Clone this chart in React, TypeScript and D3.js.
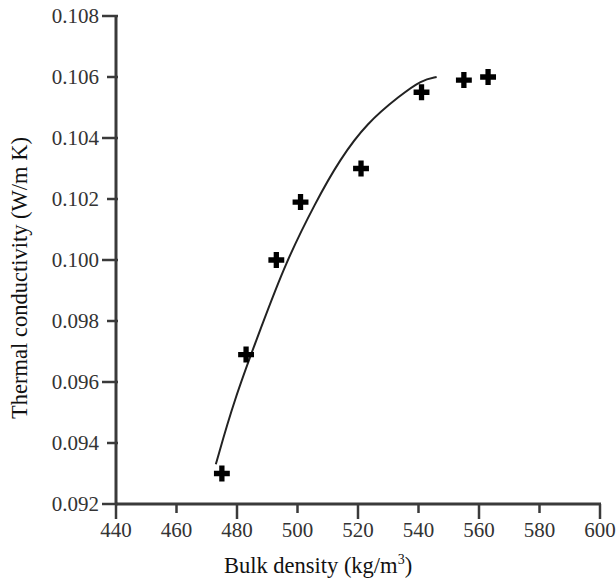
import React, { useRef, useEffect } from "react";
import * as d3 from "d3";

// measured points (crosses)
const density = [475, 483, 493, 501, 521, 541, 555, 563];
const conductivity = [0.093, 0.0969, 0.1, 0.1019, 0.103, 0.1055, 0.1059, 0.106];

// fitted curve
const fitDensity = [473, 479, 488, 496, 506, 514, 523, 534, 541, 546];
const fitConductivity = [0.0933, 0.0954, 0.0978, 0.0999, 0.1019, 0.1033, 0.1045, 0.1054, 0.1059, 0.106];

const xTicks = [440, 460, 480, 500, 520, 540, 560, 580, 600];
const yTicks = [0.092, 0.094, 0.096, 0.098, 0.1, 0.102, 0.104, 0.106, 0.108];

const App = () => {
  const svgRef = useRef<SVGSVGElement>(null);

  useEffect(() => {
    const svg = d3.select(svgRef.current);
    svg.selectAll("*").remove();

    const x = d3.scaleLinear().domain([440, 600]).range([116, 600]);
    const y = d3.scaleLinear().domain([0.092, 0.108]).range([504, 16]);
    const axisColor = "#3a3a3a";
    const font = "Liberation Serif, serif";

    // y axis
    const gy = svg.append("g").attr("transform", `translate(${x(440)},0)`);
    gy.append("line")
      .attr("y1", y(0.108) - 1).attr("y2", y(0.092) + 1)
      .attr("stroke", axisColor).attr("stroke-width", 3);
    yTicks.forEach((t, i) => {
      const long = i % 2 === 0;
      gy.append("line")
        .attr("x1", long ? -14 : -9).attr("x2", 2)
        .attr("y1", y(t)).attr("y2", y(t))
        .attr("stroke", axisColor).attr("stroke-width", 2.5);
      gy.append("text")
        .attr("x", -17).attr("y", y(t)).attr("dy", "0.34em")
        .attr("text-anchor", "end")
        .style("font-family", font).style("font-size", "21px")
        .attr("fill", "#333")
        .text(d3.format(".3f")(t));
    });

    // x axis
    const gx = svg.append("g").attr("transform", `translate(0,${y(0.092)})`);
    gx.append("line")
      .attr("x1", x(440) - 1).attr("x2", x(600) + 1)
      .attr("stroke", axisColor).attr("stroke-width", 3);
    xTicks.forEach((t, i) => {
      const long = i % 2 === 0;
      gx.append("line")
        .attr("x1", x(t)).attr("x2", x(t))
        .attr("y1", 0).attr("y2", long ? 15 : 9)
        .attr("stroke", axisColor).attr("stroke-width", 2.5);
      gx.append("text")
        .attr("x", x(t)).attr("y", 33)
        .attr("text-anchor", "middle")
        .style("font-family", font).style("font-size", "21px")
        .attr("fill", "#333")
        .text(t);
    });

    // fitted curve
    const fit = fitDensity.map((d, i) => [d, fitConductivity[i]] as [number, number]);
    const line = d3.line<[number, number]>()
      .x(d => x(d[0]))
      .y(d => y(d[1]))
      .curve(d3.curveBasis);
    svg.append("path")
      .attr("d", line(fit))
      .attr("fill", "none")
      .attr("stroke", "#222")
      .attr("stroke-width", 2);

    // crosses
    const cross = d3.symbol().type(d3.symbolCross).size(140);
    svg.selectAll(".pt")
      .data(density.map((d, i) => [d, conductivity[i]]))
      .enter()
      .append("path")
      .attr("d", cross)
      .attr("transform", d => `translate(${x(d[0])},${y(d[1])})`)
      .attr("fill", "#000");

    // axis titles
    svg.append("text")
      .attr("transform", `translate(27,278) rotate(-90)`)
      .attr("text-anchor", "middle")
      .style("font-family", font).style("font-size", "22.5px")
      .attr("fill", "#111")
      .text("Thermal conductivity (W/m K)");

    const xl = svg.append("text")
      .attr("x", 318).attr("y", 573)
      .attr("text-anchor", "middle")
      .style("font-family", font).style("font-size", "22.5px")
      .attr("fill", "#111");
    xl.append("tspan").text("Bulk density (kg/m");
    xl.append("tspan").attr("dy", -9).style("font-size", "14px").text("3");
    xl.append("tspan").attr("dy", 9).text(")");
  }, []);

  return (
    <svg
      ref={svgRef}
      width={616}
      height={587}
      style={{ position: "absolute", left: 0, top: 0, background: "#fff" }}
    ></svg>
  );
};

export default App;
